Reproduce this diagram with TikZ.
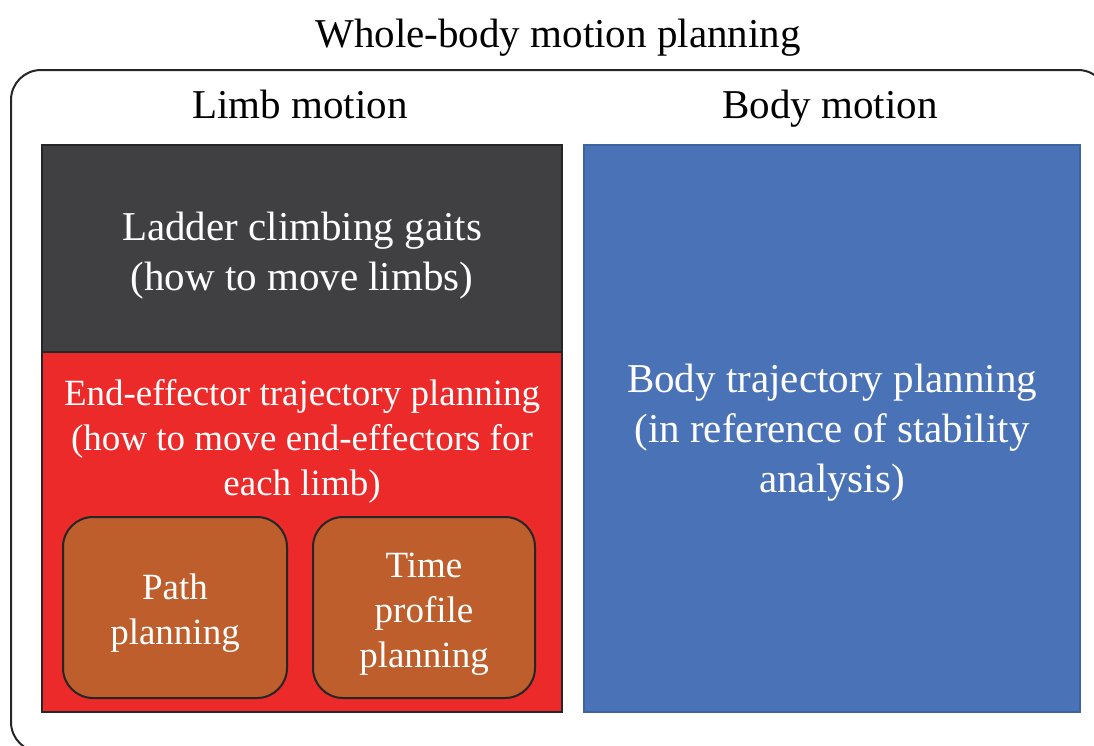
\documentclass[tikz,border=0pt]{standalone}
\usepackage{fontspec}
\setmainfont{Liberation Serif}
\definecolor{greyfill}{RGB}{64,64,66}
\definecolor{greyedge}{RGB}{38,38,38}
\definecolor{redfill}{RGB}{237,42,42}
\definecolor{brownfill}{RGB}{190,94,44}
\definecolor{bluefill}{RGB}{74,114,183}
\definecolor{blueedge}{RGB}{62,100,160}
\begin{document}
\begin{tikzpicture}[x=1pt,y=-1pt,
  big/.style={font=\fontsize{41}{50}\selectfont, align=center, inner sep=0pt},
  mid/.style={font=\fontsize{37}{45}\selectfont, align=center, inner sep=0pt},
  boxgrey/.style={fill=greyfill, draw=greyedge, line width=1.5pt},
  boxred/.style={fill=redfill, draw=greyedge, line width=1.5pt},
  boxblue/.style={fill=bluefill, draw=blueedge, line width=1.5pt},
  boxbrown/.style={fill=brownfill, draw=black!85, line width=2pt, rounded corners=30pt}]
\useasboundingbox (0,0) rectangle (1094,745);
\begin{scope}
\clip (0,0) rectangle (1094,745);
\draw[line width=2pt, rounded corners=30pt, black!85] (11,70) rectangle (1108,752);
\end{scope}
\node[big, text=black, anchor=base] (title) at (558,47) {Whole-body motion planning};
\node[big, text=black, anchor=base] (limb) at (300,118) {Limb motion};
\node[big, text=black, anchor=base] (body) at (830,118) {Body motion};
\draw[boxgrey] (42,145) rectangle (562,352);
\draw[boxred] (42,352) rectangle (562,712);
\draw[boxblue] (584,145) rectangle (1080,712);
\draw[boxbrown] (63,517) rectangle (287,698);
\draw[boxbrown] (313,517) rectangle (535,698);
\node[big, text=white] (gaits) at (302,256) {Ladder climbing gaits\\(how to move limbs)};
\node[mid, text=white] (eetraj) at (302,441.5) {End-effector trajectory planning\\(how to move end-effectors for\\each limb)};
\node[big, text=white] (btraj) at (832,433) {Body trajectory planning\\(in reference of stability\\analysis)};
\node[mid, text=white] (path) at (175,613) {Path\\planning};
\node[mid, text=white] (time) at (424,614) {Time\\profile\\planning};
\end{tikzpicture}
\end{document}
